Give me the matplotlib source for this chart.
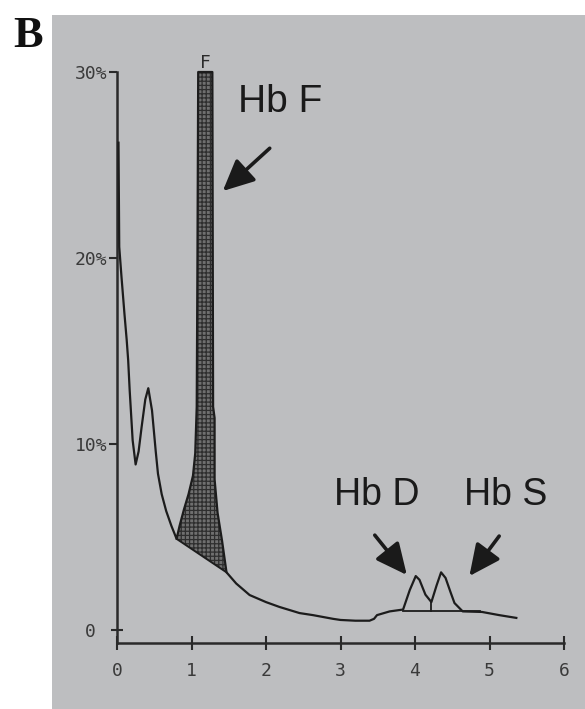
import matplotlib
matplotlib.use("Agg")
import matplotlib.pyplot as plt
import numpy as np

# ---- data (retention time in min, % of total) ----
trace_x = [0.02, 0.03, 0.06, 0.10, 0.13, 0.15, 0.17, 0.21, 0.25, 0.29, 0.33, 0.38,
           0.42, 0.47, 0.52, 0.55, 0.60, 0.66, 0.73, 0.80, 0.84, 0.90, 0.96, 1.02,
           1.05, 1.07, 1.08, 1.09, 1.28, 1.29, 1.31, 1.31, 1.35, 1.41, 1.47, 1.60,
           1.78, 2.00, 2.18, 2.45, 2.63, 2.90, 3.00, 3.20, 3.39, 3.45, 3.49, 3.66,
           3.84, 3.93, 4.01, 4.06, 4.14, 4.22, 4.29, 4.35, 4.41, 4.48, 4.53, 4.64,
           4.90, 5.13, 5.36]
trace_y = [26.2, 20.6, 19.0, 17.0, 15.6, 14.5, 12.9, 10.2, 8.9, 9.6, 10.9, 12.4,
           13.0, 11.8, 9.6, 8.4, 7.3, 6.4, 5.6, 4.9, 5.6, 6.5, 7.3, 8.3,
           9.5, 12.0, 20.0, 30.0, 30.0, 12.0, 11.4, 8.1, 6.3, 4.8, 3.1, 2.5,
           1.88, 1.5, 1.24, 0.91, 0.80, 0.60, 0.54, 0.50, 0.50, 0.60, 0.80, 1.0,
           1.1, 2.15, 2.9, 2.7, 1.9, 1.5, 2.4, 3.1, 2.8, 2.0, 1.45, 1.0,
           0.97, 0.80, 0.65]

hbf_base_x = [0.80, 1.47]
hbf_base_y = [4.9, 3.1]

ds_base_x = [3.84, 4.87]
ds_base_y = [1.0, 1.0]
ds_split_x = [4.22, 4.22]
ds_split_y = [1.5, 1.0]

x_ticks = [0, 1, 2, 3, 4, 5, 6]
x_ticklabels = ["0", "1", "2", "3", "4", "5", "6"]
y_ticks = [10, 20, 30]
y_ticklabels = ["10%", "20%", "30%"]
y_zero_tick = [0]
y_zero_label = ["0"]

labels = ["Hb F", "Hb D", "Hb S"]
label_xy = [(1.62, 27.85), (2.91, 6.72), (4.66, 6.72)]
label_size = [28, 27, 27]
arrow_tail = [(2.05, 25.9), (3.46, 5.1), (5.13, 5.05)]
arrow_tip = [(1.42, 23.6), (3.89, 2.96), (4.73, 2.9)]

# ---- figure ----
W, H = 585, 709
fig = plt.figure(figsize=(W / 100, H / 100), dpi=100)
fig.patch.set_facecolor("white")

bg = fig.add_axes([52 / W, 0, 1 - 52 / W, (H - 15) / H], zorder=-5)
bg.set_facecolor("#bdbec0")
bg.set_xticks([])
bg.set_yticks([])
for s in bg.spines.values():
    s.set_visible(False)

ymin, ymax = -0.7, 32.0
px_per_unit_y = 18.6
y0_px = 630
bottom_px = y0_px - ymin * px_per_unit_y
top_px = y0_px - ymax * px_per_unit_y
ax = fig.add_axes([117 / W, (H - bottom_px) / H, (564 - 117) / W, (bottom_px - top_px) / H])
ax.set_facecolor("none")
ax.set_xlim(0, 6)
ax.set_ylim(ymin, ymax)

ink = "#1c1c1c"
for s in ["top", "right"]:
    ax.spines[s].set_visible(False)
for s in ["left", "bottom"]:
    ax.spines[s].set_color("#2a2a2a")
    ax.spines[s].set_linewidth(1.8)
ax.spines["left"].set_bounds(ymin, 30)

ax.set_xticks(x_ticks)
ax.set_xticklabels(x_ticklabels)
ax.set_yticks(y_ticks)
ax.set_yticklabels(y_ticklabels)
ax.set_yticks(y_zero_tick, labels=y_zero_label, minor=True)
ax.tick_params(axis="x", direction="inout", length=10, width=1.5, color="#2a2a2a",
               pad=8.5, labelsize=13, labelcolor="#3a3a3a")
ax.tick_params(axis="y", which="major", direction="out", length=6, width=1.5,
               color="#2a2a2a", pad=1.0, labelsize=13, labelcolor="#3a3a3a")
ax.tick_params(axis="y", which="minor", direction="inout", length=9, width=1.5,
               color="#2a2a2a", pad=10.5, labelsize=13, labelcolor="#3a3a3a")
for t in (ax.get_xticklabels() + ax.get_yticklabels()
          + ax.get_yticklabels(minor=True)):
    t.set_family("DejaVu Sans Mono")

# HbF shaded area
tx = np.array(trace_x)
ty = np.array(trace_y)
mask = (tx >= hbf_base_x[0]) & (tx <= hbf_base_x[1])
fx = tx[mask]
fy = ty[mask]
fb = np.interp(fx, hbf_base_x, hbf_base_y)
plt.rcParams["hatch.linewidth"] = 0.9
ax.fill_between(fx, fb, fy, facecolor="#6f6f6f", edgecolor="#2e2e2e",
                hatch="++++", linewidth=0, zorder=2)

ax.plot(trace_x, trace_y, color=ink, lw=1.6, zorder=3, clip_on=False)
ax.plot(hbf_base_x, hbf_base_y, color=ink, lw=1.4, zorder=3)
ax.plot(ds_base_x, ds_base_y, color=ink, lw=1.3, zorder=3)
ax.plot(ds_split_x, ds_split_y, color=ink, lw=1.3, zorder=3)

ax.text(1.19, 30.5, "F", ha="center", va="center", fontsize=13,
        family="DejaVu Sans Mono", color="#2a2a2a", zorder=4)

for lab, (lx, ly), fs in zip(labels, label_xy, label_size):
    ax.text(lx, ly, lab, ha="left", va="baseline", fontsize=fs,
            family=["Liberation Sans", "DejaVu Sans"], color="#1a1a1a")

for (x0, y0), (x1, y1) in zip(arrow_tail, arrow_tip):
    ax.annotate("", xy=(x1, y1), xytext=(x0, y0),
                arrowprops=dict(arrowstyle="-|>,head_length=0.95,head_width=0.45",
                                mutation_scale=20, lw=2.6, color="#1a1a1a",
                                shrinkA=0, shrinkB=0))

fig.text(13 / W, 1 - 47 / H, "B", ha="left", va="baseline", fontsize=32,
         fontweight="bold", family=["Liberation Serif", "DejaVu Serif"], color="#111111")

fig.savefig("out.png", dpi=100)
